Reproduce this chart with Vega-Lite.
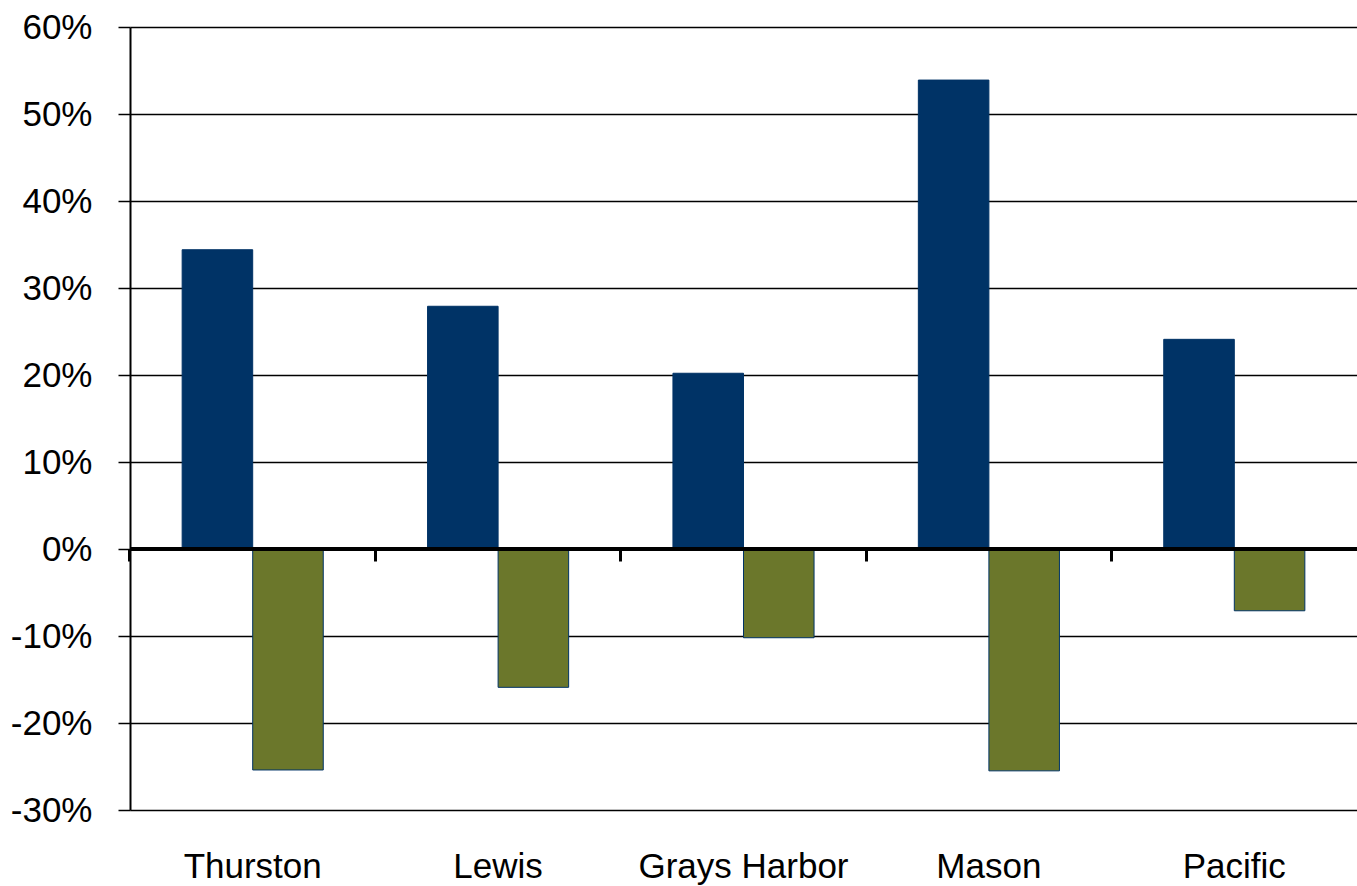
{
  "$schema": "https://vega.github.io/schema/vega-lite/v6.json",
  "width": 1227,
  "height": 783,
  "autosize": "none",
  "padding": {"left": 130, "top": 27, "right": 0, "bottom": 76},
  "background": "white",
  "config": {
    "view": {"stroke": null},
    "font": "Liberation Sans"
  },
  "data": {
    "values": [
      {"county": "Thurston", "series": "Series 1", "value": 0.344},
      {"county": "Thurston", "series": "Series 2", "value": -0.254},
      {"county": "Lewis", "series": "Series 1", "value": 0.279},
      {"county": "Lewis", "series": "Series 2", "value": -0.159},
      {"county": "Grays Harbor", "series": "Series 1", "value": 0.202},
      {"county": "Grays Harbor", "series": "Series 2", "value": -0.102},
      {"county": "Mason", "series": "Series 1", "value": 0.539},
      {"county": "Mason", "series": "Series 2", "value": -0.255},
      {"county": "Pacific", "series": "Series 1", "value": 0.241},
      {"county": "Pacific", "series": "Series 2", "value": -0.071}
    ]
  },
  "resolve": {"axis": {"x": "independent"}},
  "layer": [
    {
      "mark": {"type": "bar", "stroke": "#003366", "strokeWidth": 1},
      "encoding": {
        "x": {
          "field": "county", "type": "nominal",
          "sort": ["Thurston", "Lewis", "Grays Harbor", "Mason", "Pacific"],
          "scale": {"paddingInner": 0.425, "paddingOuter": 0.2125},
          "axis": {
            "orient": "bottom",
            "title": null, "labelAngle": 0, "domain": false, "ticks": false,
            "labelFontSize": 35, "labelColor": "black", "labelPadding": 67,
            "labelBaseline": "alphabetic", "labelLimit": 0,
            "labelFont": "Liberation Sans"
          }
        },
        "xOffset": {
          "field": "series", "type": "nominal",
          "scale": {"paddingInner": 0, "paddingOuter": 0}
        },
        "y": {
          "field": "value", "type": "quantitative",
          "scale": {"domain": [-0.3, 0.6], "nice": false},
          "axis": {
            "title": null, "format": ".0%",
            "labelExpr": "replace(datum.label, '\u2212', '-')",
            "values": [-0.3, -0.2, -0.1, 0, 0.1, 0.2, 0.3, 0.4, 0.5, 0.6],
            "labelOverlap": false,
            "grid": true, "gridColor": "black", "gridWidth": 1.5, "gridOpacity": 1,
            "domain": true, "domainColor": "black", "domainWidth": 2,
            "ticks": true, "tickColor": "black", "tickSize": 12, "tickWidth": 1.5,
            "labelFontSize": 35, "labelColor": "black", "labelPadding": 26,
            "labelFont": "Liberation Sans"
          }
        },
        "color": {
          "field": "series", "type": "nominal",
          "scale": {"domain": ["Series 1", "Series 2"], "range": ["#003366", "#6b772b"]},
          "legend": null
        }
      }
    },
    {
      "mark": {"type": "text", "text": ""},
      "encoding": {
        "x": {
          "field": "county", "type": "nominal",
          "sort": ["Thurston", "Lewis", "Grays Harbor", "Mason", "Pacific"],
          "axis": {
            "orient": "bottom",
            "title": null, "labels": false, "domain": false, "grid": false,
            "ticks": true, "bandPosition": -0.3696, "tickSize": 12, "tickWidth": 3,
            "tickColor": "black", "offset": -261
          }
        },
        "y": {"datum": 0, "type": "quantitative"}
      }
    },
    {
      "mark": {"type": "rule", "color": "black", "strokeWidth": 3},
      "encoding": {"y": {"datum": 0, "type": "quantitative"}}
    }
  ]
}
